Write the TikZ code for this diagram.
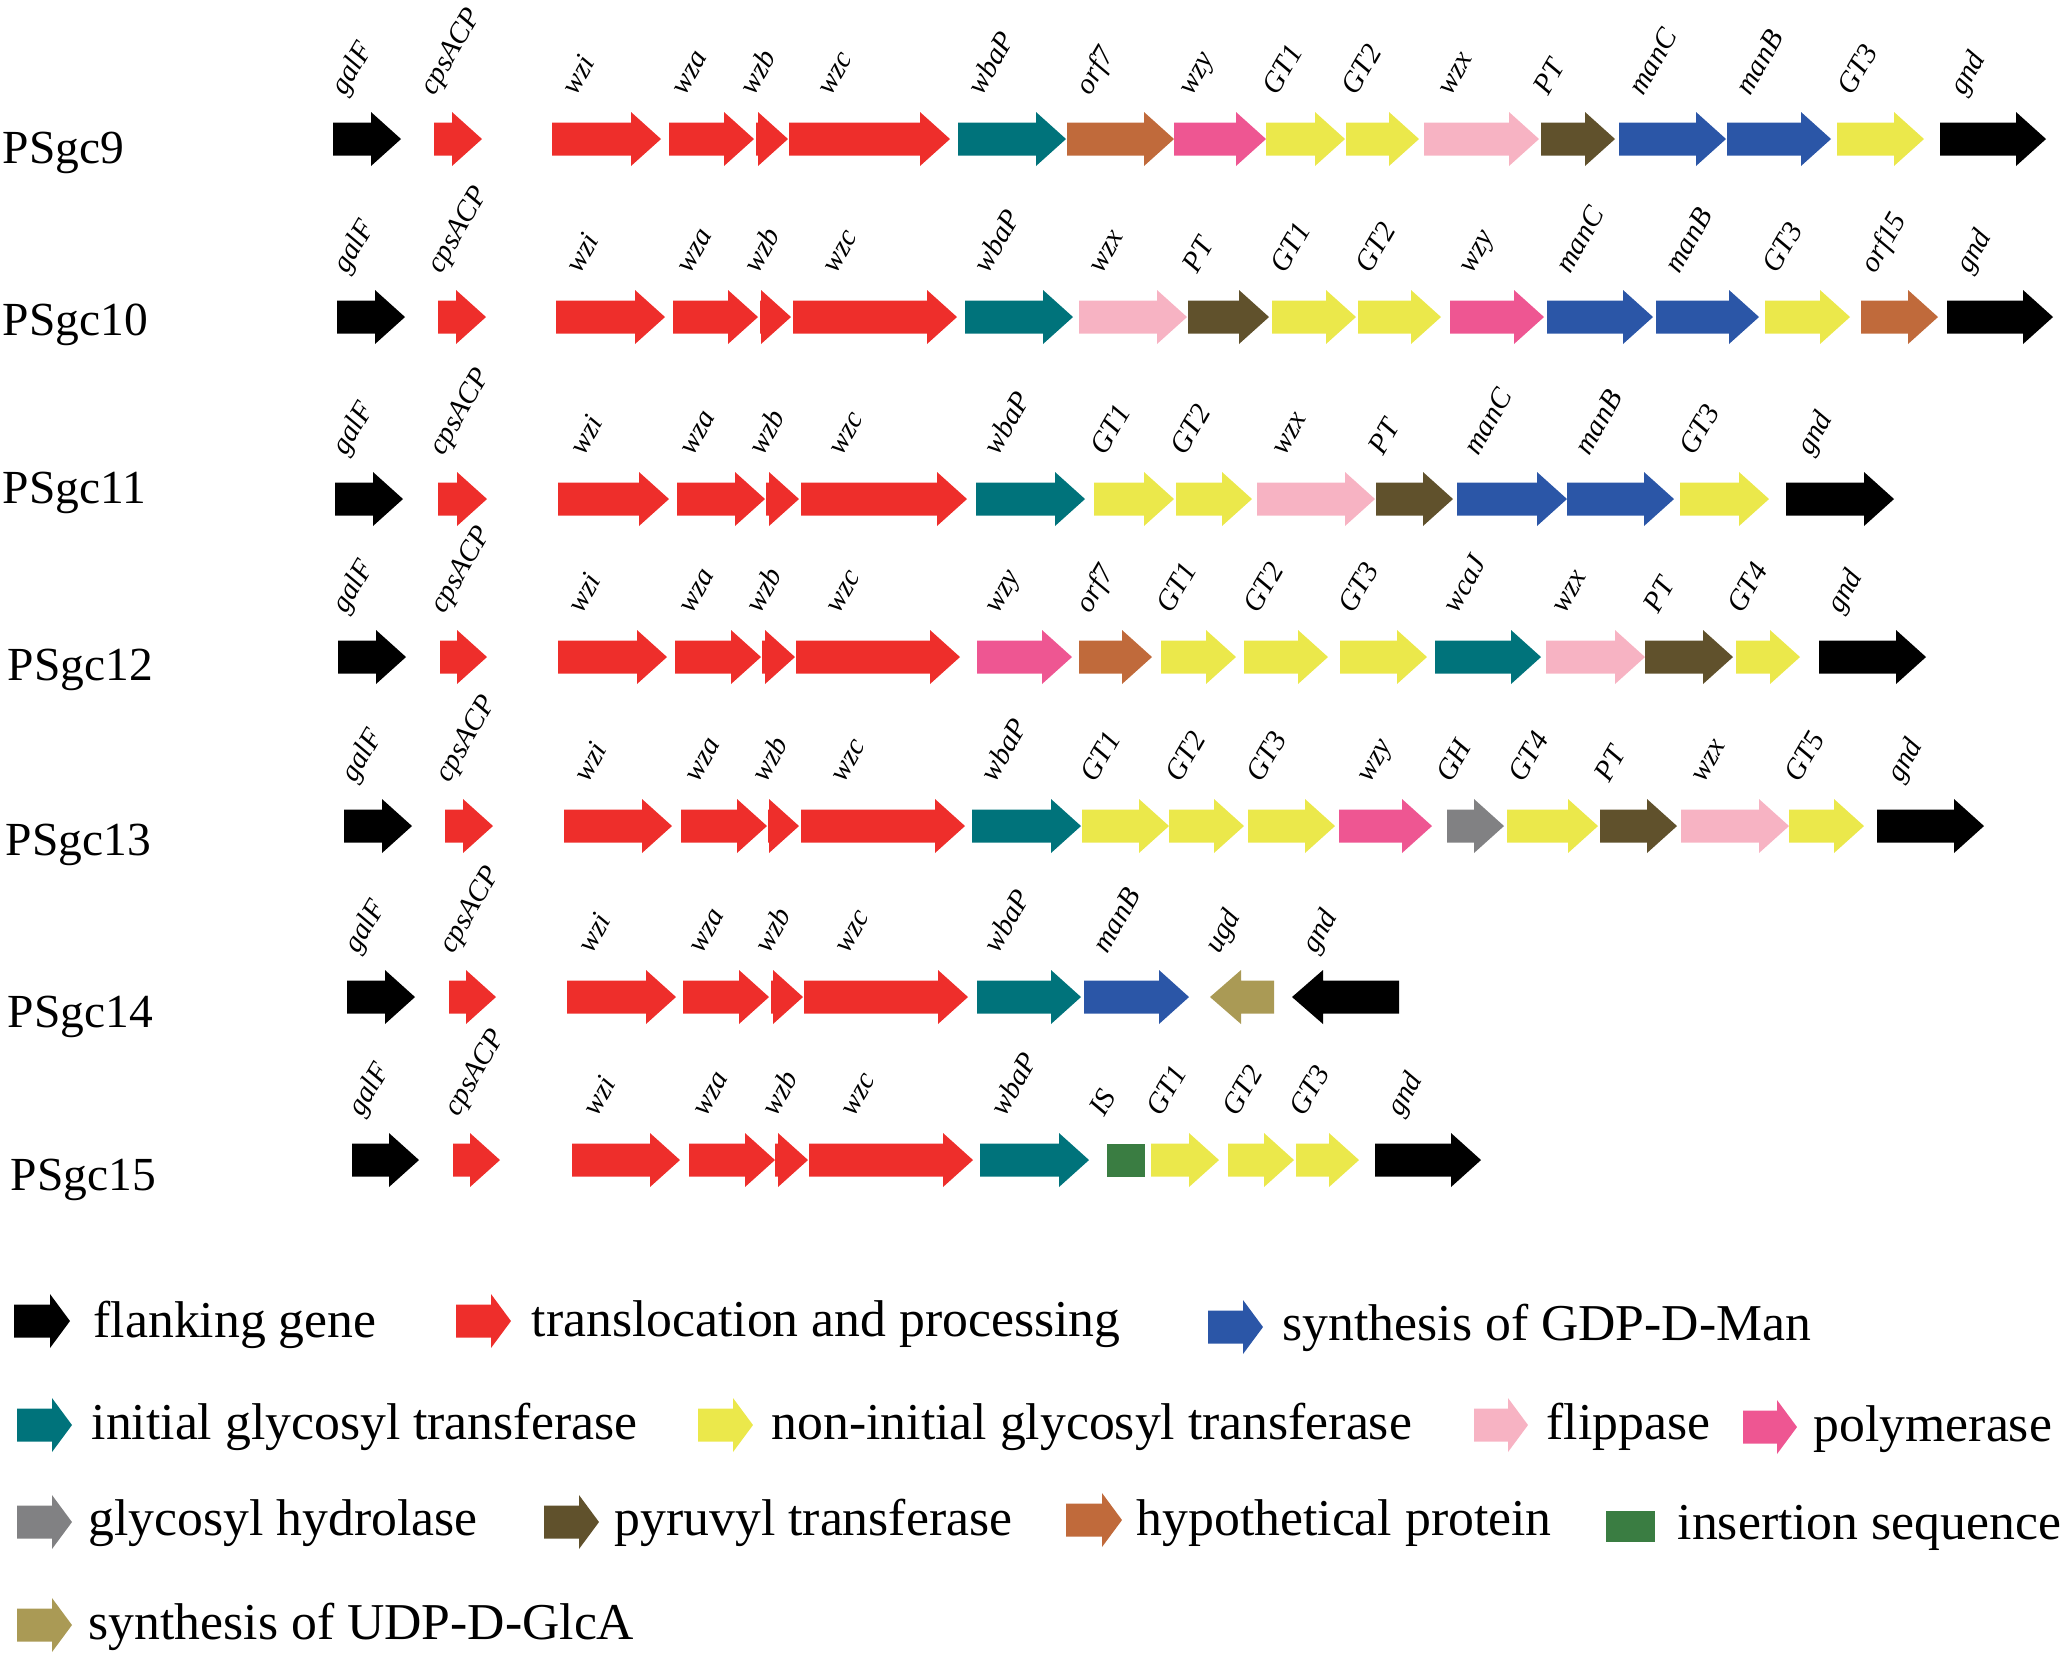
\documentclass[tikz,border=0pt]{standalone}
\usepackage{fontspec}
\setmainfont{Liberation Serif}

\definecolor{flank}{HTML}{000000}
\definecolor{transl}{HTML}{EE2E2B}
\definecolor{gdpman}{HTML}{2B56A7}
\definecolor{initgt}{HTML}{00737B}
\definecolor{nongt}{HTML}{EBE84B}
\definecolor{flip}{HTML}{F7B3C3}
\definecolor{poly}{HTML}{EE5692}
\definecolor{ghyd}{HTML}{818183}
\definecolor{pyruv}{HTML}{60512C}
\definecolor{hypo}{HTML}{C06A3B}
\definecolor{insseq}{HTML}{3A7D42}
\definecolor{udpglca}{HTML}{AA9A55}

\tikzset{
  genelabel/.style={rotate=60, anchor=base west, inner sep=0pt, font=\fontsize{8.3}{10}\selectfont\itshape},
  rowlabel/.style={anchor=base west, inner sep=0pt, font=\fontsize{13.5}{15}\selectfont},
  legendtext/.style={anchor=base west, inner sep=0pt, font=\fontsize{14.7}{17}\selectfont}
}

\newcommand{\rarrow}[5]{\fill[#1] (#2,#4-16.5) -- ({max(#2,#3-#5)},#4-16.5) -- ({max(#2,#3-#5)},#4-27) -- (#3,#4) -- ({max(#2,#3-#5)},#4+27) -- ({max(#2,#3-#5)},#4+16.5) -- (#2,#4+16.5) -- cycle;}
\newcommand{\larrow}[5]{\fill[#1] (#3,#4-16.5) -- ({min(#3,#2+#5)},#4-16.5) -- ({min(#3,#2+#5)},#4-27) -- (#2,#4) -- ({min(#3,#2+#5)},#4+27) -- ({min(#3,#2+#5)},#4+16.5) -- (#3,#4+16.5) -- cycle;}
\newcommand{\gene}[6]{\rarrow{#1}{#2}{#3}{#4}{30}\node[genelabel] (#6#4) at (#5,#4-42) {#6};}

\begin{document}
\begin{tikzpicture}[x=0.01cm, y=-0.01cm]
\useasboundingbox (0,0) rectangle (2064,1656);

\node[rowlabel] (psgc9) at (2,163) {PSgc9};
\gene{flank}{333}{401}{139}{345}{galF}
\gene{transl}{434}{482}{139}{434}{cpsACP}
\gene{transl}{552}{661}{139}{576}{wzi}
\gene{transl}{669}{754}{139}{685}{wza}
\gene{transl}{756}{788}{139}{754}{wzb}
\gene{transl}{789}{950}{139}{831}{wzc}
\gene{initgt}{958}{1066}{139}{982}{wbaP}
\gene{hypo}{1067}{1174}{139}{1090}{orf7}
\gene{poly}{1174}{1266}{139}{1192}{wzy}
\gene{nongt}{1266}{1345}{139}{1277}{GT1}
\gene{nongt}{1346}{1419}{139}{1356}{GT2}
\gene{flip}{1424}{1539}{139}{1451}{wzx}
\gene{pyruv}{1541}{1615}{139}{1548}{PT}
\gene{gdpman}{1619}{1726}{139}{1643}{manC}
\gene{gdpman}{1727}{1831}{139}{1750}{manB}
\gene{nongt}{1837}{1924}{139}{1852}{GT3}
\gene{flank}{1940}{2046}{139}{1964}{gnd}

\node[rowlabel] (psgc10) at (2,335) {PSgc10};
\gene{flank}{337}{405}{317}{347}{galF}
\gene{transl}{438}{486}{317}{441}{cpsACP}
\gene{transl}{556}{665}{317}{580}{wzi}
\gene{transl}{673}{758}{317}{690}{wza}
\gene{transl}{760}{791}{317}{758}{wzb}
\gene{transl}{793}{957}{317}{836}{wzc}
\gene{initgt}{965}{1073}{317}{988}{wbaP}
\gene{flip}{1079}{1187}{317}{1102}{wzx}
\gene{pyruv}{1188}{1269}{317}{1197}{PT}
\gene{nongt}{1272}{1356}{317}{1285}{GT1}
\gene{nongt}{1358}{1441}{317}{1370}{GT2}
\gene{poly}{1450}{1544}{317}{1472}{wzy}
\gene{gdpman}{1547}{1653}{317}{1570}{manC}
\gene{gdpman}{1656}{1759}{317}{1679}{manB}
\gene{nongt}{1765}{1850}{317}{1777}{GT3}
\gene{hypo}{1861}{1938}{317}{1875}{orf15}
\gene{flank}{1947}{2053}{317}{1970}{gnd}

\node[rowlabel] (psgc11) at (2,503) {PSgc11};
\gene{flank}{335}{403}{499}{346}{galF}
\gene{transl}{438}{487}{499}{443}{cpsACP}
\gene{transl}{558}{669}{499}{584}{wzi}
\gene{transl}{677}{765}{499}{693}{wza}
\gene{transl}{766}{799}{499}{763}{wzb}
\gene{transl}{801}{967}{499}{842}{wzc}
\gene{initgt}{976}{1085}{499}{998}{wbaP}
\gene{nongt}{1094}{1174}{499}{1105}{GT1}
\gene{nongt}{1176}{1252}{499}{1185}{GT2}
\gene{flip}{1257}{1375}{499}{1285}{wzx}
\gene{pyruv}{1376}{1453}{499}{1383}{PT}
\gene{gdpman}{1457}{1567}{499}{1478}{manC}
\gene{gdpman}{1567}{1674}{499}{1589}{manB}
\gene{nongt}{1680}{1769}{499}{1694}{GT3}
\gene{flank}{1786}{1894}{499}{1811}{gnd}

\node[rowlabel] (psgc12) at (7,680) {PSgc12};
\gene{flank}{338}{406}{657}{346}{galF}
\gene{transl}{440}{487}{657}{444}{cpsACP}
\gene{transl}{558}{667}{657}{582}{wzi}
\gene{transl}{675}{761}{657}{692}{wza}
\gene{transl}{762}{795}{657}{760}{wzb}
\gene{transl}{796}{960}{657}{839}{wzc}
\gene{poly}{977}{1072}{657}{998}{wzy}
\gene{hypo}{1079}{1152}{657}{1090}{orf7}
\gene{nongt}{1161}{1236}{657}{1171}{GT1}
\gene{nongt}{1244}{1328}{657}{1258}{GT2}
\gene{nongt}{1340}{1427}{657}{1353}{GT3}
\gene{initgt}{1435}{1541}{657}{1457}{wcaJ}
\gene{flip}{1546}{1645}{657}{1565}{wzx}
\gene{pyruv}{1645}{1733}{657}{1658}{PT}
\gene{nongt}{1736}{1800}{657}{1742}{GT4}
\gene{flank}{1819}{1926}{657}{1841}{gnd}

\node[rowlabel] (psgc13) at (5,855) {PSgc13};
\gene{flank}{344}{412}{826}{355}{galF}
\gene{transl}{445}{493}{826}{449}{cpsACP}
\gene{transl}{564}{672}{826}{588}{wzi}
\gene{transl}{681}{767}{826}{698}{wza}
\gene{transl}{768}{799}{826}{766}{wzb}
\gene{transl}{801}{965}{826}{844}{wzc}
\gene{initgt}{972}{1081}{826}{995}{wbaP}
\gene{nongt}{1082}{1169}{826}{1095}{GT1}
\gene{nongt}{1169}{1244}{826}{1180}{GT2}
\gene{nongt}{1248}{1335}{826}{1261}{GT3}
\gene{poly}{1339}{1432}{826}{1370}{wzy}
\gene{ghyd}{1447}{1504}{826}{1451}{GH}
\gene{nongt}{1507}{1598}{826}{1523}{GT4}
\gene{pyruv}{1600}{1677}{826}{1609}{PT}
\gene{flip}{1681}{1789}{826}{1704}{wzx}
\gene{nongt}{1789}{1864}{826}{1799}{GT5}
\gene{flank}{1877}{1984}{826}{1901}{gnd}

\node[rowlabel] (psgc14) at (7,1027) {PSgc14};
\gene{flank}{347}{415}{997}{358}{galF}
\gene{transl}{449}{496}{997}{453}{cpsACP}
\gene{transl}{567}{676}{997}{592}{wzi}
\gene{transl}{683}{769}{997}{702}{wza}
\gene{transl}{771}{803}{997}{769}{wzb}
\gene{transl}{804}{968}{997}{848}{wzc}
\gene{initgt}{977}{1081}{997}{998}{wbaP}
\gene{gdpman}{1084}{1189}{997}{1107}{manB}
\larrow{udpglca}{1210}{1274}{997}{31}
\node[genelabel] (ugd997) at (1219,955) {ugd};
\larrow{flank}{1292}{1399}{997}{31}
\node[genelabel] (gnd997) at (1316,955) {gnd};

\node[rowlabel] (psgc15) at (10,1190) {PSgc15};
\gene{flank}{352}{419}{1160}{362}{galF}
\gene{transl}{453}{500}{1160}{458}{cpsACP}
\gene{transl}{572}{680}{1160}{597}{wzi}
\gene{transl}{689}{775}{1160}{706}{wza}
\gene{transl}{775}{808}{1160}{776}{wzb}
\gene{transl}{809}{973}{1160}{854}{wzc}
\gene{initgt}{980}{1089}{1160}{1005}{wbaP}
\fill[insseq] (1107,1143.5) rectangle (1145,1176.5);
\node[genelabel] (IS1160) at (1104,1118) {IS};
\gene{nongt}{1151}{1219}{1160}{1161}{GT1}
\gene{nongt}{1228}{1294}{1160}{1237}{GT2}
\gene{nongt}{1296}{1359}{1160}{1304}{GT3}
\gene{flank}{1375}{1481}{1160}{1401}{gnd}

\rarrow{flank}{14}{70}{1321}{20}
\node[legendtext] (kflank) at (93,1337) {flanking gene};
\rarrow{transl}{456}{511}{1321}{20}
\node[legendtext] (ktransl) at (531,1336) {translocation and processing};
\rarrow{gdpman}{1208}{1263}{1327}{20}
\node[legendtext] (kgdpman) at (1282,1340) {synthesis of GDP-D-Man};
\rarrow{initgt}{17}{72}{1425}{20}
\node[legendtext] (kinitgt) at (91,1439) {initial glycosyl transferase};
\rarrow{nongt}{698}{753}{1425}{20}
\node[legendtext] (knongt) at (771,1439) {non-initial glycosyl transferase};
\rarrow{flip}{1474}{1528}{1425}{20}
\node[legendtext] (kflip) at (1546,1439) {flippase};
\rarrow{poly}{1743}{1797}{1427}{20}
\node[legendtext] (kpoly) at (1813,1441) {polymerase};
\rarrow{ghyd}{17}{72}{1522}{20}
\node[legendtext] (kghyd) at (88,1535) {glycosyl hydrolase};
\rarrow{pyruv}{544}{599}{1522}{20}
\node[legendtext] (kpyruv) at (614,1535) {pyruvyl transferase};
\rarrow{hypo}{1066}{1122}{1520}{20}
\node[legendtext] (khypo) at (1136,1535) {hypothetical protein};
\fill[insseq] (1606,1511) rectangle (1655,1542);
\node[legendtext] (kinsseq) at (1677,1539) {insertion sequence};
\rarrow{udpglca}{17}{72}{1625}{20}
\node[legendtext] (kudpglca) at (88,1639) {synthesis of UDP-D-GlcA};
\end{tikzpicture}
\end{document}
